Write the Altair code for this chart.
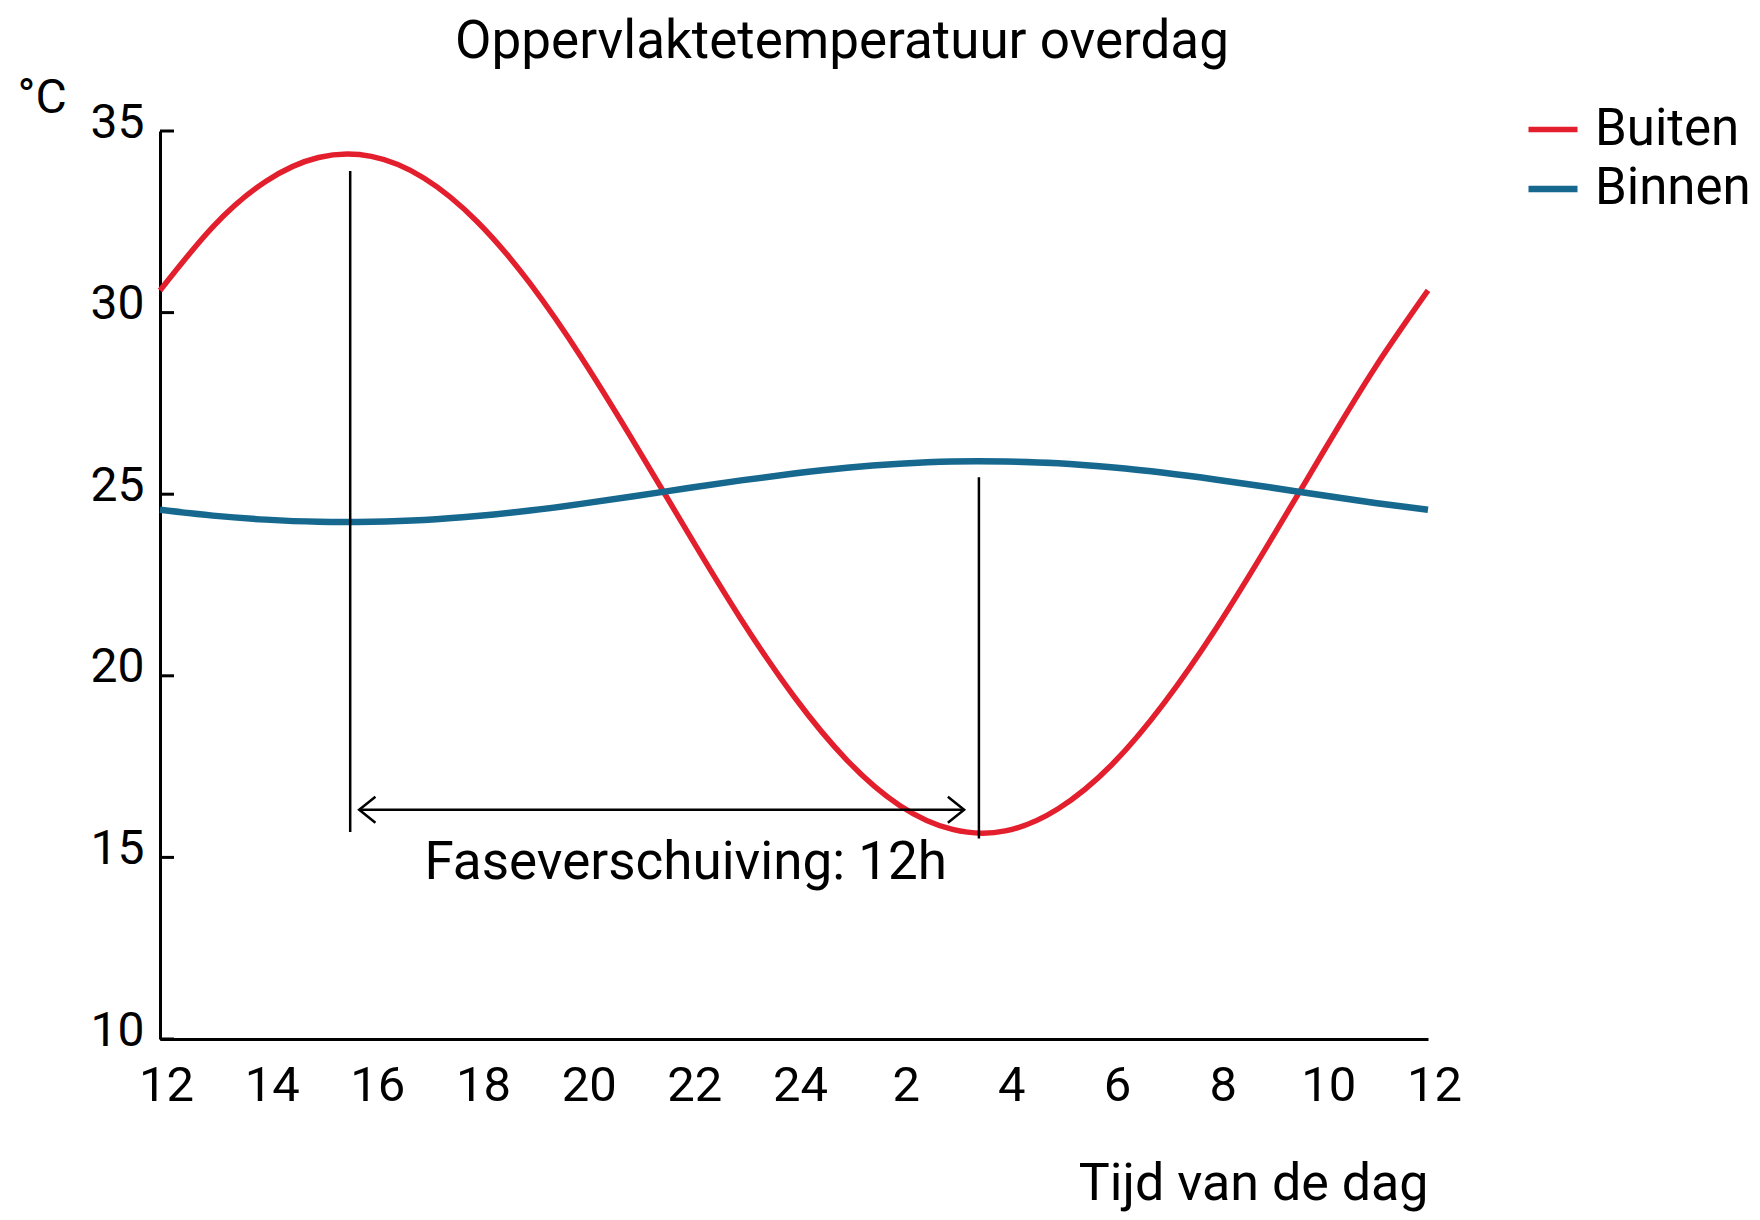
import json
import altair as alt
import pandas as pd

# ---- data ----
hours = list(range(25))  # hours after 12:00
buiten = [30.61, 32.36, 33.61, 34.27, 34.30, 33.70, 32.51, 30.81, 28.71, 26.36,
          23.92, 21.55, 19.43, 17.68, 16.43, 15.77, 15.73, 16.34, 17.53, 19.24,
          21.33, 23.68, 26.12, 28.49, 30.61]
binnen = [24.57, 24.41, 24.30, 24.24, 24.24, 24.29, 24.40, 24.55, 24.74, 24.95,
          25.17, 25.38, 25.57, 25.73, 25.84, 25.90, 25.90, 25.85, 25.74, 25.59,
          25.40, 25.19, 24.97, 24.76, 24.57]
series_names = ["Buiten", "Binnen"]
series_colors = ["#E31E2D", "#16688F"]
series_widths = [5.5, 6.5]

x_tick_values = list(range(0, 25, 2))
x_tick_labels = ["12", "14", "16", "18", "20", "22", "24", "2", "4", "6", "8", "10", "12"]
y_tick_values = [10, 15, 20, 25, 30, 35]

marker_hour = [3.6, 15.5]
marker_top = [33.9, 25.47]
marker_bottom = [15.7, 15.52]

arrow_hour = [3.77, 15.22]
arrow_temp = [16.31, 16.31]

annotation_text = ["Faseverschuiving: 12h"]
annotation_hour = [9.95]
annotation_temp = [14.4]

title_text = "Oppervlaktetemperatuur overdag"
y_title = "°C"
x_title = "Tijd van de dag"

FONT = "Roboto"

# ---- tables ----
lines_df = pd.DataFrame({
    "hour": hours * 2,
    "temp": buiten + binnen,
    "series": [series_names[0]] * len(hours) + [series_names[1]] * len(hours),
})
markers_df = pd.DataFrame({"hour": marker_hour, "temp": marker_top, "bottom": marker_bottom})
arrow_df = pd.DataFrame({"hour": [arrow_hour[0]], "h2": [arrow_hour[1]], "temp": [arrow_temp[0]]})
left_head_df = pd.DataFrame({"hour": [arrow_hour[0]], "temp": [arrow_temp[0]]})
right_head_df = pd.DataFrame({"hour": [arrow_hour[1]], "temp": [arrow_temp[1]]})
ann_df = pd.DataFrame({"hour": annotation_hour, "temp": annotation_temp, "label": annotation_text})
yticks_df = pd.DataFrame({"temp": y_tick_values})

x_scale = alt.Scale(domain=[0, 24], nice=False, zero=False)
y_scale = alt.Scale(domain=[10, 35], nice=False, zero=False)

label_expr = json.dumps(x_tick_labels) + "[round(datum.value / 2)]"

x_axis = alt.Axis(
    values=x_tick_values, labelExpr=label_expr, ticks=False, tickSize=0,
    domainColor="black", domainWidth=3, grid=False,
    labelFont=FONT, labelFontSize=49, labelColor="black", labelPadding=22,
    labelOffset=6, labelFlush=False, labelOverlap=False, labelBound=False,
    title=x_title, titleFont=FONT, titleFontSize=52, titleFontWeight="normal",
    titleColor="black", titleAlign="right", titleAnchor="end", titleBaseline="alphabetic",
    titleX=1268, titleY=160,
)
y_axis = alt.Axis(
    values=y_tick_values, ticks=False, tickSize=0,
    domainColor="black", domainWidth=3, grid=False,
    labelFont=FONT, labelFontSize=48, labelColor="black", labelPadding=16,
    labelBaseline="middle", labelOffset=-8, labelOverlap=False, labelBound=False,
    labelFlush=False,
    title=y_title, titleFont=FONT, titleFontSize=48, titleFontWeight="normal",
    titleColor="black", titleAngle=0, titleAlign="left", titleBaseline="alphabetic",
    titleX=-143, titleY=-19,
)

X = lambda f: alt.X(f, scale=x_scale, axis=x_axis)
Y = lambda f: alt.Y(f, scale=y_scale, axis=y_axis)

lines = alt.Chart(lines_df).mark_line(interpolate="natural").encode(
    x=X("hour:Q"),
    y=Y("temp:Q"),
    color=alt.Color(
        "series:N",
        scale=alt.Scale(domain=series_names, range=series_colors),
        legend=alt.Legend(
            title=None, orient="none", legendX=1365, legendY=-29,
            symbolType="stroke", symbolSize=2401, symbolStrokeWidth=6,
            labelFont=FONT, labelFontSize=51, labelColor="black", labelOffset=14,
            labelLimit=400, rowPadding=6, padding=0,
        ),
    ),
    strokeWidth=alt.StrokeWidth(
        "series:N", scale=alt.Scale(domain=series_names, range=series_widths), legend=None
    ),
)

ytick_marks = alt.Chart(yticks_df).mark_rule(color="black", strokeWidth=3).encode(
    y=Y("temp:Q"),
    x=alt.value(0), x2=alt.value(14),
)

markers = alt.Chart(markers_df).mark_rule(color="black", strokeWidth=2.5).encode(
    x=X("hour:Q"),
    y=Y("temp:Q"),
    y2="bottom:Q",
)

arrow_line = alt.Chart(arrow_df).mark_rule(color="black", strokeWidth=2.5).encode(
    x=X("hour:Q"),
    x2="h2:Q",
    y=Y("temp:Q"),
)

left_head = alt.Chart(left_head_df).mark_point(
    shape="M1.25,-1L0,0L1.25,1", filled=False, stroke="black", strokeWidth=2.5,
    size=676, opacity=1,
).encode(x=X("hour:Q"), y=Y("temp:Q"))

right_head = alt.Chart(right_head_df).mark_point(
    shape="M-1.25,-1L0,0L-1.25,1", filled=False, stroke="black", strokeWidth=2.5,
    size=676, opacity=1,
).encode(x=X("hour:Q"), y=Y("temp:Q"))

annotation = alt.Chart(ann_df).mark_text(
    font=FONT, fontSize=53, color="black", align="center", baseline="alphabetic",
).encode(
    x=X("hour:Q"),
    y=Y("temp:Q"),
    text="label:N",
)

chart = alt.layer(
    lines, ytick_marks, markers, arrow_line, left_head, right_head, annotation
).properties(
    width=1268,
    height=908,
    title=alt.TitleParams(
        text=title_text, font=FONT, fontSize=53, fontWeight="normal", color="black",
        anchor="middle", frame="group", dx=48, dy=-1,
    ),
    autosize=alt.AutoSizeParams(type="none"),
    padding={"left": 152, "top": 123, "right": 324, "bottom": 173},
).configure(background="white").configure_view(stroke=None)

chart.save("out.html", embed_options={"renderer": "svg", "actions": False})
